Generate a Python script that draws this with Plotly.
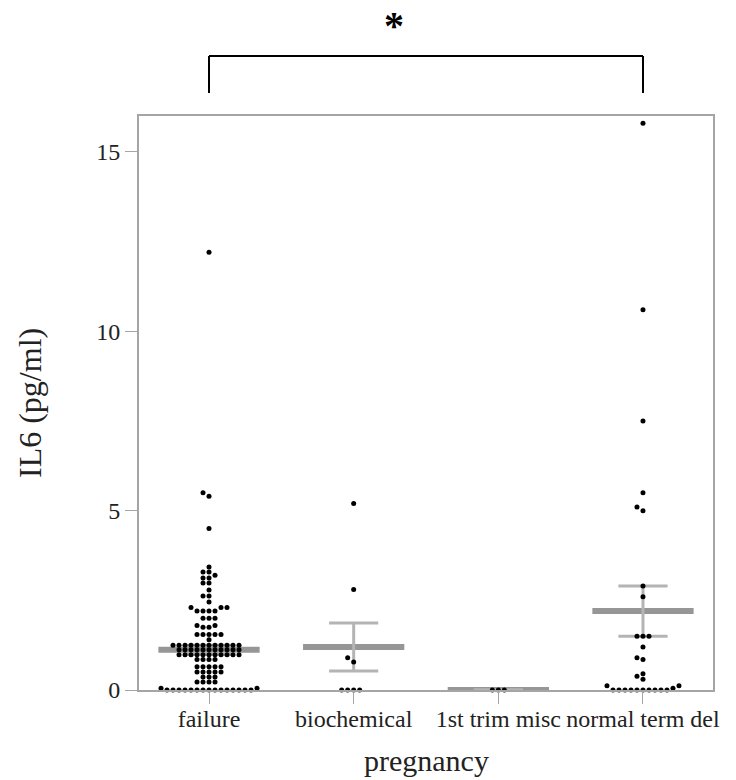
import plotly.graph_objects as go

categories = ["failure", "biochemical", "1st trim misc", "normal term del"]

failure = [12.2, 5.5, 5.4, 4.5,
           3.43, 3.29, 3.29, 3.2, 3.12, 3.12, 2.98, 2.98, 2.79, 2.62, 2.62, 2.45,
           2.3, 2.3, 2.3, 2.2, 2.2, 2.2, 2.2, 2.0, 2.0, 2.0, 1.8, 1.8, 1.75, 1.75,
           1.55, 1.55, 1.55, 1.55, 1.55, 1.4,
           1.25, 1.25, 1.25, 1.25, 1.25, 1.25, 1.25, 1.25, 1.25, 1.25, 1.25, 1.25,
           1.12, 1.12, 1.12, 1.12, 1.12, 1.12, 1.12, 1.12, 1.12, 1.12, 1.12,
           0.98, 0.98, 0.98, 0.98, 0.98, 0.98, 0.98, 0.98, 0.98, 0.98, 0.98,
           0.85, 0.85, 0.85, 0.85, 0.65, 0.65, 0.65, 0.65, 0.65,
           0.5, 0.5, 0.5, 0.5, 0.5, 0.36, 0.36, 0.36, 0.22, 0.22, 0.22, 0.22,
           0.05, 0.05,
           0, 0, 0, 0, 0, 0, 0, 0, 0, 0, 0, 0, 0, 0, 0]
biochemical = [5.2, 2.8, 0.9, 0.78, 0, 0, 0, 0]
first_trim = [0, 0, 0]
normal_term = [15.8, 10.6, 7.5, 5.5, 5.1, 5.0, 2.9, 2.6, 1.5, 1.5, 1.5, 1.2,
               0.9, 0.85, 0.45, 0.38, 0.3, 0.12, 0.12, 0.05,
               0, 0, 0, 0, 0, 0, 0, 0, 0, 0]
groups = [failure, biochemical, first_trim, normal_term]

means = [1.12, 1.2, 0.0, 2.2]
sems = [0.13, 0.67, 0.0, 0.7]

y_ticks = [0, 5, 10, 15]

W, H = 736, 780
ML, MR, MT, MB = 139, 23, 116, 90
X_RANGE = [-0.484, 3.484]
Y_RANGE = [0, 16]
PW, PH = W - ML - MR, H - MT - MB
sx = PW / (X_RANGE[1] - X_RANGE[0])
sy = PH / (Y_RANGE[1] - Y_RANGE[0])


def paper_y(px):
    """page pixel row -> paper coordinate"""
    return (H - MB - px) / PH


def beeswarm(vals, d_px, dy_px):
    order = sorted(range(len(vals)), key=lambda i: vals[i])
    placed = []
    offs = [0.0] * len(vals)
    for i in order:
        y = vals[i] * sy
        forb = [(xp - d_px, xp + d_px) for xp, yp in placed if abs(y - yp) < dy_px]
        cands = [0.0] + [a for a, b in forb] + [b for a, b in forb]
        cands.sort(key=abs)
        x = 0.0
        for c in cands:
            if all(not (a + 1e-9 < c < b - 1e-9) for a, b in forb):
                x = c
                break
        placed.append((x, y))
        offs[i] = x / sx
    return offs


fig = go.Figure()

GRAY = "rgb(165,165,165)"
# mean lines
mx, my = [], []
for i, m in enumerate(means):
    mx += [i - 0.35, i + 0.35, None]
    my += [m, m, None]
fig.add_trace(go.Scatter(x=mx, y=my, mode="lines", line=dict(color="rgb(150,150,150)", width=6),
                         hoverinfo="skip", showlegend=False, cliponaxis=False))
# SEM bars
ex, ey = [], []
for i, (m, s) in enumerate(zip(means, sems)):
    ex += [i, i, None, i - 0.17, i + 0.17, None, i - 0.17, i + 0.17, None]
    ey += [m - s, m + s, None, m + s, m + s, None, m - s, m - s, None]
fig.add_trace(go.Scatter(x=ex, y=ey, mode="lines", line=dict(color="rgb(180,180,180)", width=3),
                         hoverinfo="skip", showlegend=False, cliponaxis=False))

# dots
for i, vals in enumerate(groups):
    offs = beeswarm(vals, 6.0, 4.5)
    fig.add_trace(go.Scatter(x=[i + o for o in offs], y=vals, mode="markers",
                             marker=dict(color="black", size=5, line=dict(width=0)),
                             showlegend=False, cliponaxis=False, name=categories[i]))

FONT = "Liberation Serif"
fig.update_layout(
    width=W, height=H,
    margin=dict(l=ML, r=MR, t=MT, b=MB),
    paper_bgcolor="white", plot_bgcolor="white",
    font=dict(family=FONT, color="#222"),
    xaxis=dict(range=X_RANGE, tickvals=list(range(len(categories))), ticktext=categories,
               showgrid=False, zeroline=False, showline=True, linecolor=GRAY, linewidth=2,
               mirror=True, ticks="outside", ticklen=12, tickcolor=GRAY, tickwidth=1,
               ticklabelstandoff=-6,
               tickfont=dict(family=FONT, size=24, color="#222")),
    yaxis=dict(range=Y_RANGE, tickvals=y_ticks, showgrid=False, zeroline=False,
               showline=True, linecolor=GRAY, linewidth=2, mirror=True,
               ticks="outside", ticklen=12, tickcolor=GRAY, tickwidth=1,
               tickfont=dict(family=FONT, size=24, color="#222")),
)

fig.add_annotation(text="IL6 (pg/ml)", xref="paper", yref="paper", x=(30 - ML) / PW, y=0.5,
                   textangle=-90, showarrow=False, font=dict(family=FONT, size=32, color="#222"),
                   xanchor="center", yanchor="middle")
fig.add_annotation(text="pregnancy", xref="paper", yref="paper", x=0.5, y=paper_y(779),
                   showarrow=False, font=dict(family=FONT, size=30, color="#222"),
                   xanchor="center", yanchor="bottom")

# significance bracket between failure and normal term del
fig.add_shape(type="line", xref="x", yref="paper", x0=0, x1=3, y0=paper_y(56), y1=paper_y(56),
              line=dict(color="black", width=2))
fig.add_shape(type="line", xref="x", yref="paper", x0=0, x1=0, y0=paper_y(56), y1=paper_y(93),
              line=dict(color="black", width=2))
fig.add_shape(type="line", xref="x", yref="paper", x0=3, x1=3, y0=paper_y(56), y1=paper_y(93),
              line=dict(color="black", width=2))
fig.add_annotation(text="<b>*</b>", xref="paper", yref="paper", x=(394 - ML) / PW, y=paper_y(0.5),
                   showarrow=False, font=dict(family=FONT, size=40, color="black"),
                   xanchor="center", yanchor="top")

fig.write_html("out.html", config={"displayModeBar": False},
               post_script="document.body.style.margin='0';")
